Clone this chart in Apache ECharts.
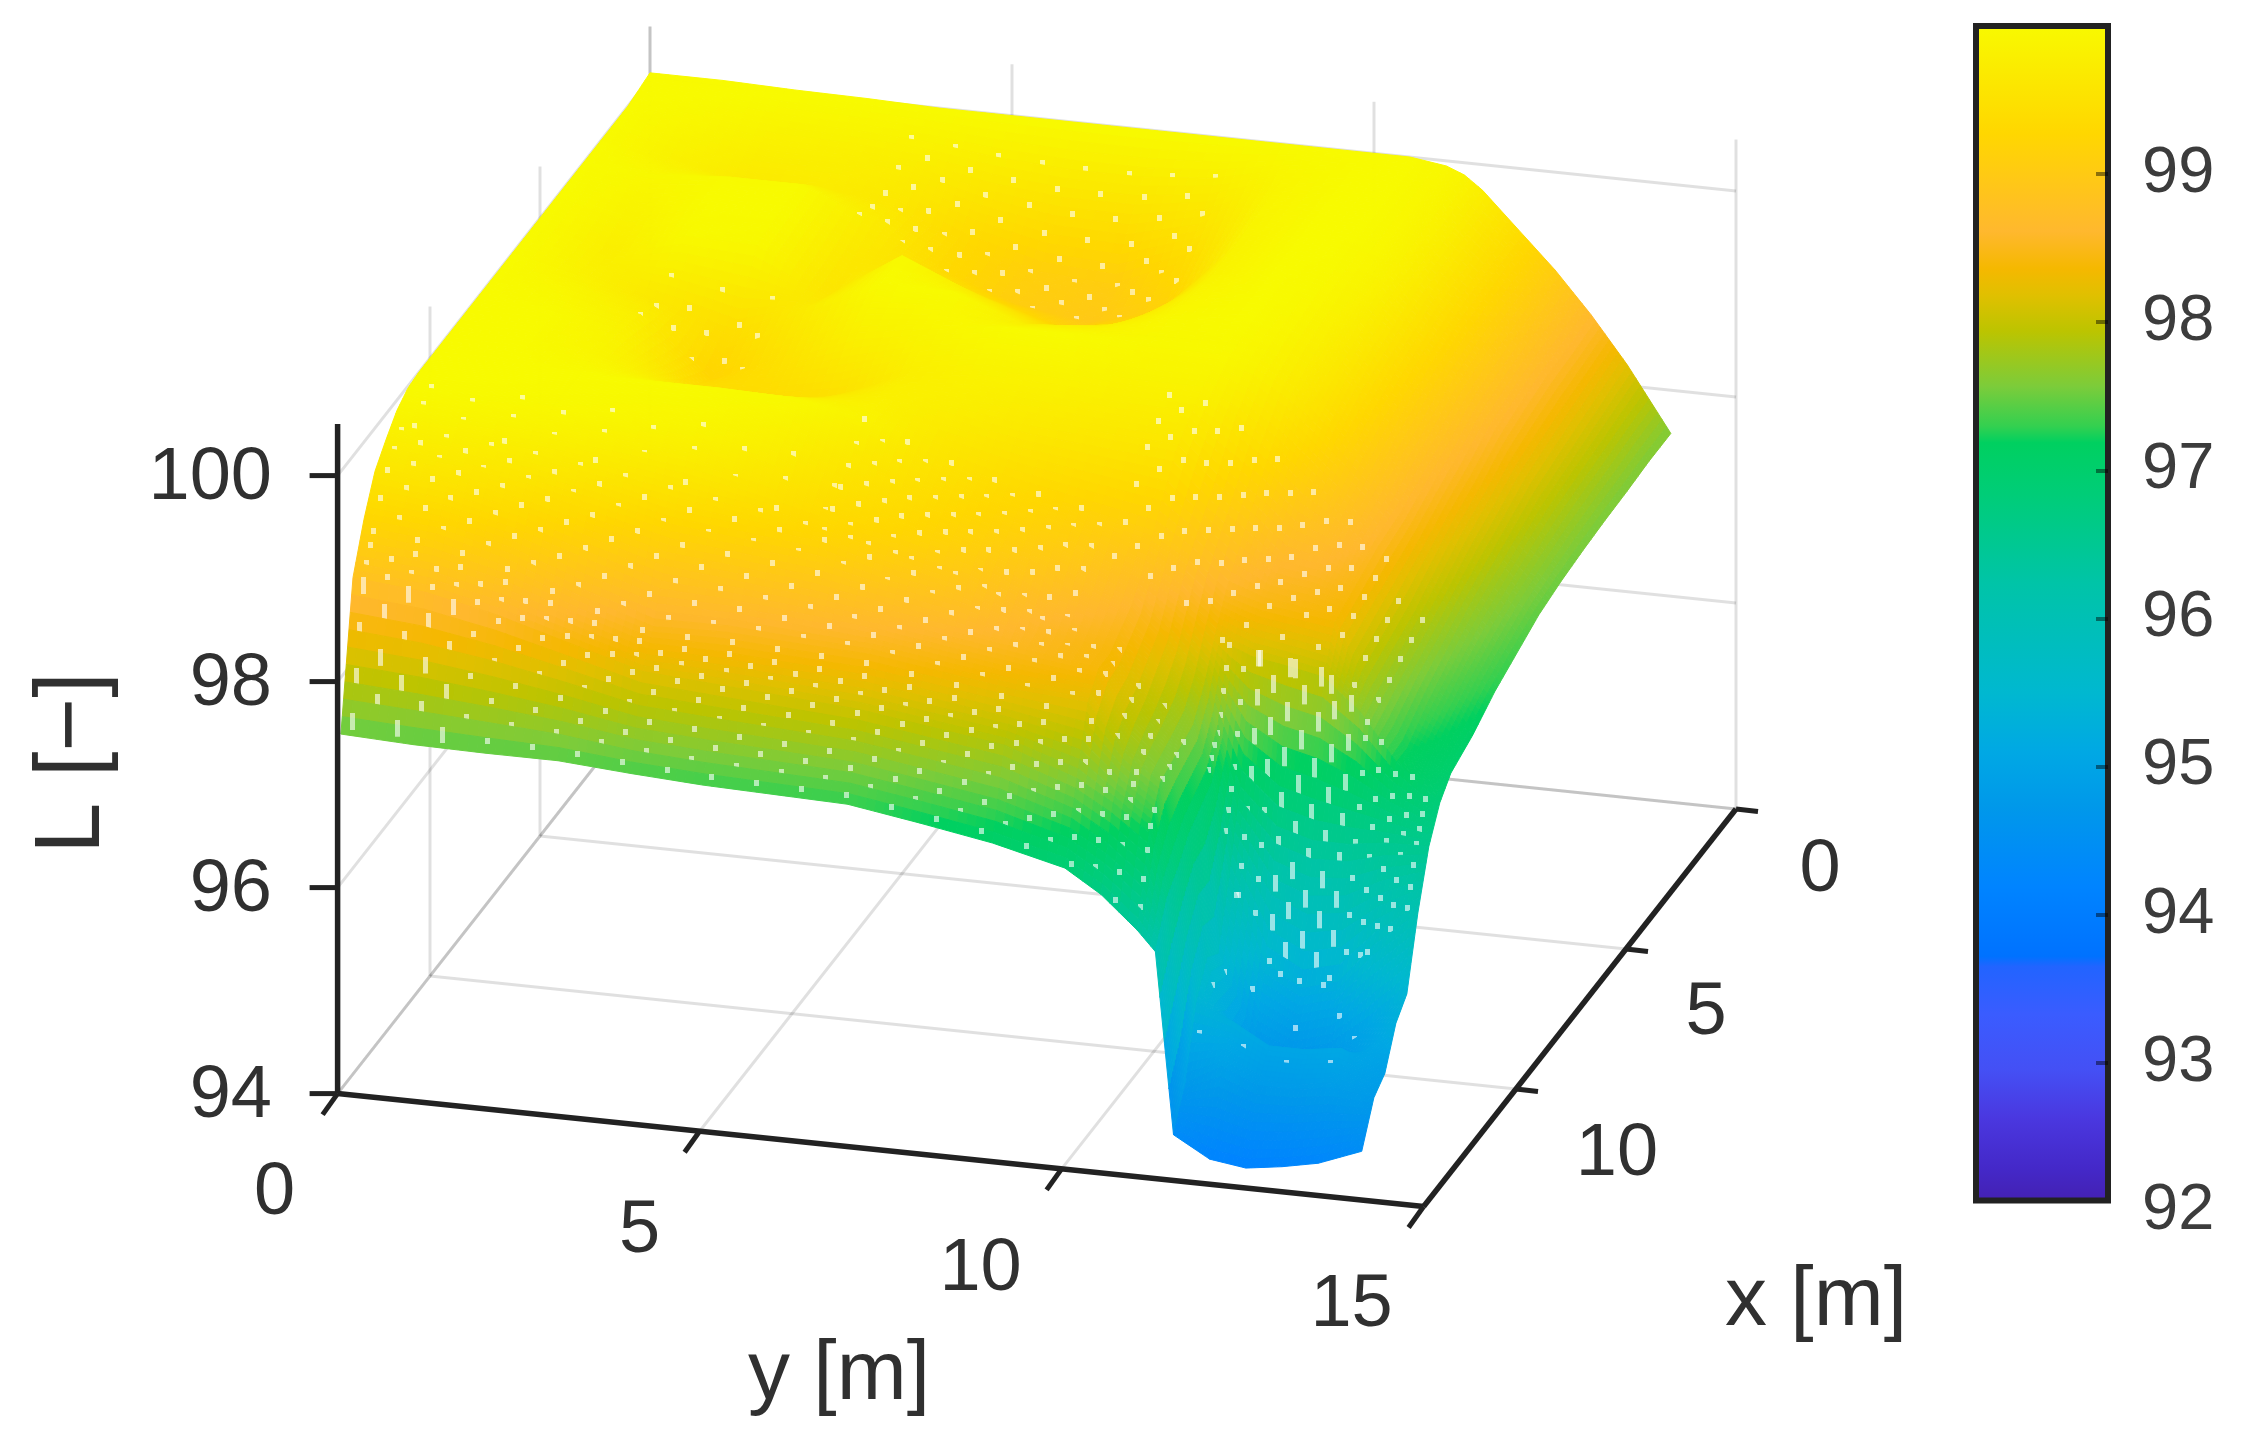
<!DOCTYPE html>
<html>
<head>
<meta charset="utf-8">
<style>html,body{margin:0;padding:0;background:#fff}#chart{width:2256px;height:1437px}</style>
<script src="https://cdn.jsdelivr.net/npm/echarts@6/dist/echarts.min.js"></script>
</head>
<body>
<div id="chart"></div>
<script>
// ---------- data ----------
var xValues = [0,1,2,3,4,5,6,7,8,9,10,10.5,11,11.5,12,12.5,13,13.5,14.05];
var yValues = [0,1,2,3,4,5,6,7,8,9,10,10.5,11,11.25,11.5,12,12.5,13,13.5,14.1];
// L [-] : one row per xValues entry, one column per yValues entry
var levelRows = [
[100.05,100.05,100.03,100.02,100,100,100,100,100,100,100,100,99.95,99.88,99.75,99.4,99.05,98.65,98.2,97.58],
[100,99.92,99.82,99.8,99.75,99.62,99.55,99.55,99.65,99.9,100,100,99.93,99.86,99.72,99.4,99.03,98.62,98.15,97.58],
[100,99.8,99.65,99.7,99.6,99.3,99.1,99.05,99.35,99.88,100,100,99.93,99.85,99.72,99.38,99,98.6,98.1,97.56],
[100,99.95,100,100,99.7,99.3,99.05,98.95,99.15,99.85,100,100,99.92,99.83,99.7,99.35,98.98,98.55,98.05,97.55],
[100,99.85,100,100,99.6,99.55,99.35,99.15,99.3,99.85,100,99.98,99.88,99.8,99.65,99.3,98.92,98.48,98,97.53],
[100,99.75,99.97,99.95,99.55,100,99.7,99.45,99.55,99.9,100,99.96,99.82,99.72,99.58,99.22,98.8,98.35,97.9,97.5],
[100,99.8,99.6,99.4,99.7,100,100,99.75,99.8,99.95,100,99.92,99.75,99.65,99.5,99.12,98.7,98.25,97.8,97.45],
[100,99.92,99.75,99.2,99.5,99.8,99.9,100,100,99.95,99.95,99.85,99.65,99.52,99.35,98.98,98.6,98.1,97.7,97.35],
[100,100,99.85,99.4,99.35,99.45,99.75,99.85,99.85,99.8,99.8,99.6,99.35,99.2,99.05,98.8,98.55,97.95,97.55,97.25],
[100,100,99.9,99.7,99.65,99.7,99.8,99.75,99.65,99.6,99.55,99.2,98.95,98.8,98.65,98.6,98.45,97.85,97.4,97.1],
[100,100,100,100,100,99.98,99.85,99.55,99.35,99.2,99.05,98.85,98.55,98.5,98.45,98.4,98.35,97.75,97.2,97],
[100,100,99.98,99.96,99.95,99.85,99.65,99.45,99.25,99.1,98.8,98.6,98.25,98.15,98.08,98.02,97.95,97.65,97.2,96.85],
[99.98,99.97,99.95,99.92,99.88,99.75,99.5,99.35,99.15,98.95,98.6,98.3,97.9,97.4,96.95,96.6,96.5,96.5,96.55,96.56],
[99.9,99.87,99.83,99.77,99.7,99.55,99.35,99.25,99.05,98.7,98.5,98.15,97.65,97.1,96.2,95.4,95.2,95.3,95.7,96.05],
[99.75,99.7,99.62,99.5,99.35,99.28,99.2,99,98.85,98.55,98.4,98,97.6,97,95.6,94.8,94.65,94.75,95,95.4],
[99.58,99.5,99.35,99.15,98.95,98.88,98.8,98.7,98.6,98.5,98.4,97.9,97.55,96.9,95.7,94.7,94.55,94.6,94.85,95.25],
[99.25,99.18,99,98.72,98.5,98.52,98.48,98.45,98.35,98.25,98.2,97.75,97.5,96.7,95.4,95.25,95.05,95.05,95.1,94.9],
[98.82,98.75,98.6,98.4,98.2,98.15,98.1,98.05,97.95,97.85,97.6,97.4,97.15,96.55,94.75,94.95,94.8,94.8,94.85,94.8],
[97.45,97.42,97.41,97.41,97.36,97.32,97.3,97.28,97.17,97.05,96.88,96.66,96.35,96.16,94.4,94.2,94.15,94.2,94.27,94.43]
];
var zTicks = [94,96,98,100];
var yTicks = [0,5,10,15];
var xTicks = [0,5,10];
var colorbarTicks = [93,94,95,96,97,98,99];
var colorbarLabels = [92,93,94,95,96,97,98,99];
var colormapValues = [92.03,92.3,92.65,92.97,93.34,93.66,93.73,94.2,94.73,95.1,95.5,96.23,96.83,97.18,97.29,97.56,97.93,98.17,98.35,98.6,99.26,100];
var colormapColors = ['#4420b0','#4428c8','#4a38e0','#4450f5','#3a5cff','#2264ff','#0072ff','#0084ff','#0098ea','#00a8e4','#00b8d0','#00c4a8','#00cd78','#00d060','#33d050','#7ccc3a','#bcc400','#e0c000','#f5b800','#ffb82e','#ffd700','#f8fa00'];
var dotPatches = [
  [10.9,11.8,0.2,0.3,6.0,1.25],
  [10.0,11.8,0.18,6.0,9.5,0.6],
  [11.8,13.2,0.16,0.15,11.0,0.62],
  [13.2,14.0,0.08,0.15,11.0,0.62],
  [8.0,10.5,0.25,9.6,13.2,0.5],
  [10.5,11.5,0.07,11.2,14.0,0.42],
  [11.5,13.4,0.28,11.6,13.4,0.6],
  [0.6,3.0,0.3,3.8,8.0,0.6],
  [5.6,7.0,0.35,2.0,3.6,0.7]
];
var xLabelOffsets = [[84,62],[80,65],[101,66]];
var yLabelOffsets = [[-63,100],[-60,100],[-81,101],[-72,99]];

// ---------- projection of the 3-D box to the page plane ----------
var view = {ox:650, oy:696, xdx:-22, xdy:28, ydx:72.4, ydy:7.53, zdy:-103, zBase:94, zTop:100.5, xMax:14.2, yMax:15};
function project(x,y,z){
  return [view.ox + view.xdx*x + view.ydx*y, view.oy + view.xdy*x + view.ydy*y + view.zdy*(z-view.zBase)];
}
function locate(list,v){
  var i=0; while(i<list.length-2 && v>list[i+1]) i++; return i;
}
function levelAt(x,y){
  var i=locate(xValues,x), j=locate(yValues,y);
  var tx=(x-xValues[i])/(xValues[i+1]-xValues[i]), ty=(y-yValues[j])/(yValues[j+1]-yValues[j]);
  var a=levelRows[i][j],b=levelRows[i][j+1],c=levelRows[i+1][j],d=levelRows[i+1][j+1];
  return a*(1-tx)*(1-ty)+b*(1-tx)*ty+c*tx*(1-ty)+d*tx*ty;
}
var rgbStops = colormapColors.map(function(h){return [parseInt(h.substr(1,2),16),parseInt(h.substr(3,2),16),parseInt(h.substr(5,2),16)];});
function colorOf(v){
  var n=colormapValues.length;
  if(v<=colormapValues[0]) return colormapColors[0];
  if(v>=colormapValues[n-1]) return colormapColors[n-1];
  var i=locate(colormapValues,v), t=(v-colormapValues[i])/(colormapValues[i+1]-colormapValues[i]);
  var a=rgbStops[i],b=rgbStops[i+1];
  return 'rgb('+Math.round(a[0]+(b[0]-a[0])*t)+','+Math.round(a[1]+(b[1]-a[1])*t)+','+Math.round(a[2]+(b[2]-a[2])*t)+')';
}

// ---------- surface pieces, far to near ----------
function splitList(list,fine,coarse,limit){
  var out=[];
  for(var i=0;i<list.length-1;i++){
    var step=list[i]>=limit?fine:coarse, n=Math.ceil((list[i+1]-list[i])/step-1e-9);
    for(var k=0;k<n;k++) out.push(list[i]+(list[i+1]-list[i])*k/n);
  }
  out.push(list[list.length-1]);
  return out;
}
var xCuts=splitList(xValues,0.0625,0.125,10), yCuts=splitList(yValues,0.0625,0.125,10.9);
var dots=[];
dotPatches.forEach(function(p){
  var row=0;
  for(var x=p[0];x<=p[1];x+=p[2],row++){
    for(var y=p[3]+(row%2)*p[5]/2;y<=p[4];y+=p[5]) dots.push([x,y]);
  }
});
dots.sort(function(a,b){return a[0]-b[0];});
var pieces=[], dotIndex=0;
for(var i=0;i<xCuts.length-1;i++){
  for(var j=0;j<yCuts.length-1;j++){
    pieces.push({x0:xCuts[i],x1:xCuts[i+1],y0:yCuts[j],y1:yCuts[j+1]});
  }
  while(dotIndex<dots.length && dots[dotIndex][0]<xCuts[i+1]){ pieces.push({dot:dots[dotIndex]}); dotIndex++; }
}

// ---------- box lines ----------
var gridLines=[], inkLines=[];
function seg(list,a,b){ list.push([a,b]); }
zTicks.forEach(function(z){
  seg(gridLines,[0,0,z],[0,view.yMax,z]);
  seg(gridLines,[0,0,z],[view.xMax,0,z]);
});
yTicks.forEach(function(y){
  seg(gridLines,[0,y,view.zBase],[0,y,view.zTop]);
  seg(gridLines,[0,y,view.zBase],[view.xMax,y,view.zBase]);
});
xTicks.forEach(function(x){
  seg(gridLines,[x,0,view.zBase],[x,0,view.zTop]);
  seg(gridLines,[x,0,view.zBase],[x,view.yMax,view.zBase]);
});
seg(inkLines,[view.xMax,0,view.zBase],[view.xMax,0,view.zTop]);
seg(inkLines,[view.xMax,0,view.zBase],[view.xMax,view.yMax,view.zBase]);
seg(inkLines,[0,view.yMax,view.zBase],[view.xMax,view.yMax,view.zBase]);
var tickMarks=[];
yTicks.forEach(function(y){ tickMarks.push({from:[view.xMax,y,view.zBase],d:[-15,21]}); });
xTicks.forEach(function(x){ tickMarks.push({from:[x,view.yMax,view.zBase],d:[22,2.5]}); });
zTicks.forEach(function(z){ tickMarks.push({from:[view.xMax,0,z],d:[-28,0]}); });

var texts=[];
zTicks.forEach(function(z){ var p=project(view.xMax,0,z); texts.push({t:String(z),x:272,y:p[1]+3,a:'right',s:74}); });
yTicks.forEach(function(y,i){ var p=project(view.xMax,y,view.zBase); texts.push({t:String(y),x:p[0]+yLabelOffsets[i][0],y:p[1]+yLabelOffsets[i][1],a:'center',s:74}); });
xTicks.forEach(function(x,i){ var p=project(x,view.yMax,view.zBase); texts.push({t:String(x),x:p[0]+xLabelOffsets[i][0],y:p[1]+xLabelOffsets[i][1],a:'center',s:74}); });
texts.push({t:'y [m]',x:839,y:1376,a:'center',s:84});
texts.push({t:'x [m]',x:1816,y:1302,a:'center',s:84});
texts.push({t:'L [\u2212]',x:74,y:763,a:'center',s:92,r:Math.PI/2});

// ---------- chart ----------
var barBottom=92.07, barTop=100;
var barStops=[{offset:0,color:colormapColors[colormapColors.length-1]}];
for(var s=colormapValues.length-2;s>=0;s--){
  barStops.push({offset:Math.min(1,(barTop-colormapValues[s])/(barTop-barBottom)),color:colormapColors[s]});
}
var chart=echarts.init(document.getElementById('chart'),null,{renderer:'canvas'});
var inkColor='#222222';
function lineSeries(list,color,width,z){
  return {type:'custom',xAxisIndex:0,yAxisIndex:0,silent:true,z:z,animation:false,clip:false,
    data:list.map(function(_,i){return i;}),
    renderItem:function(params,api){
      var l=list[params.dataIndex];
      var a=api.coord(project(l[0][0],l[0][1],l[0][2])), b=api.coord(project(l[1][0],l[1][1],l[1][2]));
      return {type:'line',shape:{x1:a[0],y1:a[1],x2:b[0],y2:b[1]},style:{stroke:color,lineWidth:width,lineCap:'butt'}};
    }};
}
chart.setOption({
  animation:false,
  backgroundColor:'#ffffff',
  grid:[
    {left:0,top:0,width:2256,height:1437},
    {left:1976,top:26,width:132,height:1184.8}
  ],
  xAxis:[
    {type:'value',gridIndex:0,min:0,max:2256,show:false},
    {type:'value',gridIndex:1,min:0,max:1,show:false}
  ],
  yAxis:[
    {type:'value',gridIndex:0,min:0,max:1437,inverse:true,show:false},
    {type:'value',gridIndex:1,min:92,max:100,position:'right',z:5,
      splitLine:{show:false},axisLine:{show:false,onZero:false},
      axisTick:{show:true,inside:true,length:12,lineStyle:{color:'rgba(0,0,0,0.45)',width:4},customValues:colorbarTicks},
      axisLabel:{show:true,margin:34,fontFamily:'Liberation Sans',fontSize:65,color:'#3c3c3c',padding:[6,0,0,0],customValues:colorbarLabels}}
  ],
  series:[
    lineSeries(gridLines,'rgba(0,0,0,0.12)',3,1),
    {type:'custom',xAxisIndex:0,yAxisIndex:0,silent:true,z:2,animation:false,clip:false,progressive:0,
      data:pieces.map(function(_,i){return i;}),
      renderItem:function(params,api){
        var c=pieces[params.dataIndex];
        if(c.dot){
          var z=levelAt(c.dot[0],c.dot[1]);
          var p=api.coord(project(c.dot[0],c.dot[1],z));
          var n=Math.min(14.05,c.dot[0]+0.03);
          var q=api.coord(project(n,c.dot[1],levelAt(n,c.dot[1])));
          var dy=Math.abs(q[1]-p[1]);
          var h=dy<8?6:Math.min(24,dy*2);
          return {type:'rect',shape:{x:Math.round(p[0]-2.5),y:Math.round(p[1]-h/2),width:5,height:h},style:{fill:'rgba(255,255,255,0.6)'}};
        }
        var corners=[[c.x0,c.y0],[c.x0,c.y1],[c.x1,c.y1],[c.x1,c.y0]];
        var pts=corners.map(function(k){return api.coord(project(k[0],k[1],levelAt(k[0],k[1])));});
        var col=colorOf(levelAt((c.x0+c.x1)/2,(c.y0+c.y1)/2));
        return {type:'polygon',shape:{points:pts},style:{fill:col,stroke:col,lineWidth:1}};
      }},
    lineSeries(inkLines,inkColor,5.5,3),
    {type:'custom',xAxisIndex:0,yAxisIndex:0,silent:true,z:3,animation:false,clip:false,
      data:tickMarks.map(function(_,i){return i;}),
      renderItem:function(params,api){
        var t=tickMarks[params.dataIndex];
        var a=api.coord(project(t.from[0],t.from[1],t.from[2]));
        return {type:'line',shape:{x1:a[0],y1:a[1],x2:a[0]+t.d[0],y2:a[1]+t.d[1]},style:{stroke:inkColor,lineWidth:5}};
      }},
    {type:'custom',xAxisIndex:0,yAxisIndex:0,silent:true,z:4,animation:false,clip:false,
      data:texts.map(function(_,i){return i;}),
      renderItem:function(params,api){
        var t=texts[params.dataIndex];
        var a=api.coord([t.x,t.y]);
        return {type:'text',x:a[0],y:a[1],rotation:t.r||0,
          style:{text:t.t,fontFamily:'Liberation Sans',fontSize:t.s,fill:'#303030',align:t.a,verticalAlign:'middle'}};
      }},
    {type:'custom',xAxisIndex:1,yAxisIndex:1,silent:true,z:2,animation:false,clip:false,
      data:[0],
      renderItem:function(params,api){
        var tl=api.coord([0,barTop]), br=api.coord([1,barBottom]);
        return {type:'rect',shape:{x:tl[0],y:tl[1],width:br[0]-tl[0],height:br[1]-tl[1]},
          style:{fill:new echarts.graphic.LinearGradient(0,0,0,1,barStops),stroke:inkColor,lineWidth:6}};
      }}
  ]
});
</script>
</body>
</html>
